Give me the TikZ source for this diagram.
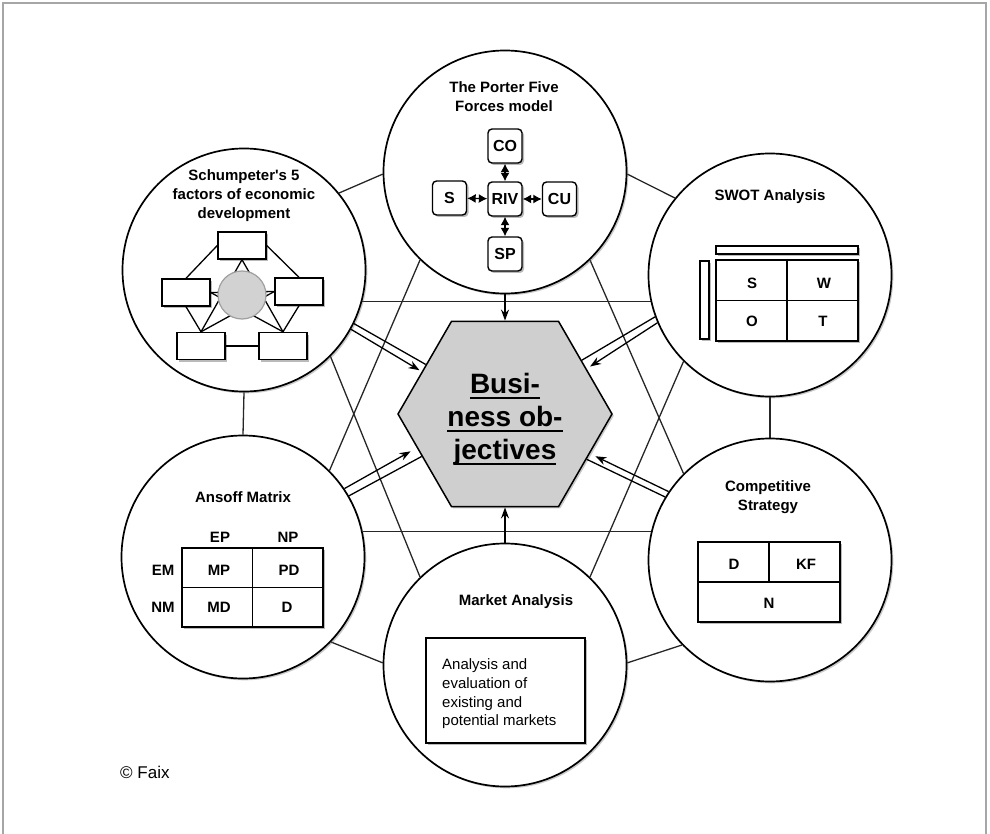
\documentclass[tikz,border=0pt]{standalone}
\usepackage{fontspec}
\setmainfont{Liberation Sans}
\newfontfamily\aposfont{Liberation Sans}[Ligatures=ResetAll]
\usetikzlibrary{shapes.geometric,shadows,backgrounds,arrows.meta}
\newsavebox\ulinebox
\newcommand\ulbar[1]{\sbox\ulinebox{#1}\rlap{\raisebox{-6.2pt}{\rule{\wd\ulinebox}{2.4pt}}}\usebox\ulinebox}
\newcommand\apos{{\aposfont\bfseries\symbol{39}}}
\begin{document}
\begin{tikzpicture}[x=1pt,y=-1pt,
  softshadow/.style={drop shadow={shadow xshift=1.8pt,shadow yshift=-1.8pt,opacity=0.35,fill=black!60}},
  boxshadow/.style={drop shadow={shadow xshift=2pt,shadow yshift=-2pt,opacity=0.45,fill=black!60}},
  bigcirc/.style={circle,draw=black,line width=1.7pt,fill=white,minimum size=243pt,inner sep=0pt,softshadow},
  web/.style={line width=1.3pt,black!85},
  ttl/.style={font=\fontsize{15}{19}\selectfont\bfseries,align=center,inner sep=0pt},
  lbl/.style={font=\fontsize{15}{18}\selectfont\bfseries,inner sep=0pt},
  pbox/.style={rectangle,rounded corners=4pt,draw,line width=1.4pt,fill=white,minimum size=34pt,inner sep=0pt,font=\fontsize{16}{18}\selectfont\bfseries,boxshadow},
  sbox/.style={rectangle,draw,line width=1.4pt,fill=white,minimum width=48pt,minimum height=27pt,inner sep=0pt,boxshadow},
  matrixbox/.style={rectangle,draw,line width=1.5pt,fill=white,inner sep=0pt,boxshadow},
  divider/.style={line width=1.3pt},
  force/.style={line width=1.3pt,{Latex[length=8.5pt,width=9pt]}-{Latex[length=8.5pt,width=9pt]}},
  toobj/.style={line width=1.3pt,-{Stealth[length=11pt,width=8pt]}},
  rail/.style={line width=1.3pt},
]
\useasboundingbox (0,0) rectangle (990,834);

% the six method circles
\node[bigcirc] (porter) at (505,172) {};
\node[bigcirc] (schump) at (244,270) {};
\node[bigcirc] (swot)   at (770,275) {};
\node[bigcirc] (ansoff) at (243,557) {};
\node[bigcirc] (comp)   at (770,560) {};
\node[bigcirc] (market) at (505,665) {};

% central goal
\node[regular polygon,regular polygon sides=6,minimum size=214pt,inner sep=0pt,draw,line width=1.5pt,fill=gray!38,softshadow] (hex) at (505,414) {};
\node[font=\fontsize{28}{33}\selectfont\bfseries,align=center,inner sep=0pt] (goal) at (505,419)
  {\ulbar{Busi-}\\\ulbar{ness ob-}\\\ulbar{jectives}};

% frame and the web of links behind the circles
\begin{scope}[on background layer]
  \draw[gray!70,line width=2pt] (3,3) rectangle (986,900);
  \draw[web] (schump.39) -- (porter.181);
  \draw[web] (porter.-1) -- (swot.141);
  \draw[web] (schump.-90) -- (ansoff.90);
  \draw[web] (swot.-90) -- (comp.90);
  \draw[web] (ansoff.-44) -- (market.179);
  \draw[web] (comp.-136) -- (market.1);
  \draw[web] (schump.-15) -- (schump.-15 -| swot.center);
  \draw[web] (ansoff.12) -- (ansoff.12 -| comp.center);
  \draw[web] (porter.226) -- (ansoff.45);
  \draw[web] (porter.-46) -- (comp.135);
  \draw[web] (schump.-45) -- (market.134);
  \draw[web] (swot.-135) -- (market.46);
\end{scope}

% links into the goal
\draw[toobj] (porter.south) -- (hex.north);
\draw[toobj] (market.north) -- (hex.south);
\draw[rail] (schump.-26) -- (hex.148);
\draw[toobj,shorten >=2.5pt] (schump.-29) -- (hex.153);
\draw[rail] (swot.200) -- (hex.35);
\draw[toobj,shorten >=4pt] (swot.203) -- (hex.29.5);
\draw[rail] (ansoff.30.6) -- (hex.207.4);
\draw[toobj,shorten >=7pt] (ansoff.34.2) -- (hex.201.8);
\draw[rail] (comp.149.5) -- (hex.331);
\draw[toobj,shorten >=6pt] (comp.146) -- (hex.335);

% Porter five forces
\node[ttl] at (504,97) {The Porter Five\\Forces model};
\node[pbox] (riv) at (505,199) {RIV};
\node[pbox] (co)  at (505,146) {CO};
\node[pbox] (sp)  at (505,254) {SP};
\node[pbox] (s)   at (449.5,198) {S};
\node[pbox] (cu)  at (559.5,199) {CU};
\draw[force] (co.south) -- (riv.north);
\draw[force] (sp.north) -- (riv.south);
\draw[force] (s) -- (riv);
\draw[force] (cu) -- (riv);

% Schumpeter
\node[ttl] at (244,196) {Schumpeter\apos s 5\\factors of economic\\development};
\node[sbox] (st)  at (242,245.5) {};
\node[sbox] (sl)  at (186,292.5) {};
\node[sbox] (sr)  at (299,291.5) {};
\node[sbox] (sbl) at (201,346) {};
\node[sbox] (sbr) at (283,346) {};
\draw[divider] (st.west) -- (sl.north);
\draw[divider] (st.east) -- (sr.north);
\draw[divider] (sl.south) -- (sbl.north);
\draw[divider] (sr.south) -- (sbr.north);
\draw[divider] (sbl.east) -- (sbr.west);
\draw[divider] (st.south) -- (sbl.north);
\draw[divider] (st.south) -- (sbr.north);
\draw[divider] (sl.east) -- (sr.west);
\draw[divider] (sl.east) -- (sbr.north);
\draw[divider] (sr.west) -- (sbl.north);
\node[circle,minimum size=48pt,inner sep=0pt,fill=gray!35,draw=gray!75,line width=1.2pt] (score) at (242,295) {};

% SWOT
\node[ttl] at (770,197) {SWOT Analysis};
\node[matrixbox,minimum width=142pt,minimum height=8pt] (sbar) at (787,250) {};
\node[matrixbox,minimum width=9pt,minimum height=78pt] (sside) at (704.5,300) {};
\node[matrixbox,minimum width=142pt,minimum height=81pt] (swgrid) at (787,300.5) {};
\draw[divider] (swgrid.north) -- (swgrid.south);
\draw[divider] (swgrid.west) -- (swgrid.east);
\node[lbl] at (752,283) {S};
\node[lbl] at (824,283) {W};
\node[lbl] at (752,321) {O};
\node[lbl] at (823,321) {T};

% Ansoff
\node[ttl] at (243,497) {Ansoff Matrix};
\node[matrixbox,minimum width=141pt,minimum height=79pt] (agrid) at (252.5,587.5) {};
\draw[divider] (agrid.north) -- (agrid.south);
\draw[divider] (agrid.west) -- (agrid.east);
\node[lbl] at (220,537) {EP};
\node[lbl] at (288,537) {NP};
\node[lbl] at (163,570) {EM};
\node[lbl] at (163,607) {NM};
\node[lbl] at (219,570) {MP};
\node[lbl] at (289,570) {PD};
\node[lbl] at (219,607) {MD};
\node[lbl] at (287,607) {D};

% Competitive strategy
\node[ttl] at (768,497) {Competitive\\Strategy};
\node[matrixbox,minimum width=142pt,minimum height=80pt] (cgrid) at (769,582) {};
\draw[divider] (cgrid.north) -- (cgrid.center);
\draw[divider] (cgrid.west) -- (cgrid.east);
\node[lbl] at (734,564) {D};
\node[lbl] at (806,564) {KF};
\node[lbl] at (769,603) {N};

% Market analysis
\node[ttl] at (516,602) {Market Analysis};
\node[matrixbox,minimum width=159pt,minimum height=105pt] (mbox) at (505.5,690.5) {};
\node[font=\fontsize{15}{18.7}\selectfont,align=left,anchor=west,inner sep=0pt] (mtext) at (442,694)
  {Analysis and\\evaluation of\\existing and\\potential markets};

\node[font=\fontsize{17}{20}\selectfont,anchor=west,inner sep=0pt] (copy) at (120,772) {© Faix};
\end{tikzpicture}
\end{document}
